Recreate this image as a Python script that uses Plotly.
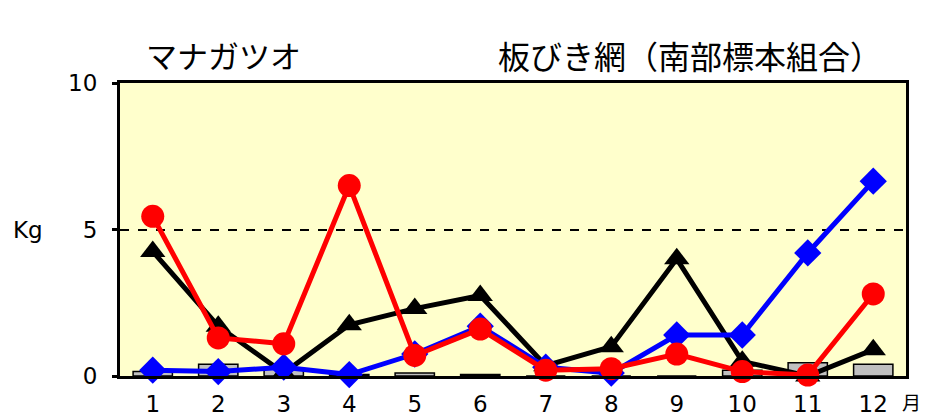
import plotly.graph_objects as go

months = [str(m) for m in range(1, 13)]

# gray bars (small catches)
bar_vals = [0.15, 0.4, 0.25, 0.05, 0.1, 0.05, 0.0, 0.0, 0.0, 0.2, 0.45, 0.4]
# black triangles
tri_vals = [4.25, 1.7, 0.1, 1.75, 2.3, 2.75, 0.35, 1.0, 4.0, 0.5, 0.0, 0.9]
# blue diamonds
dia_vals = [0.2, 0.15, 0.3, 0.05, 0.75, 1.7, 0.3, 0.1, 1.4, 1.4, 4.2, 6.65]
# red circles
cir_vals = [5.45, 1.3, 1.1, 6.5, 0.7, 1.6, 0.2, 0.25, 0.75, 0.15, 0.03, 2.8]

y_ticks = [0, 5, 10]
y_ticklabels = ["0", "5", "10"]

fig = go.Figure()

fig.add_trace(go.Bar(
    x=months, y=bar_vals, width=0.6,
    marker=dict(color="#c0c0c0", line=dict(color="black", width=1.5)),
))
fig.add_trace(go.Scatter(
    x=months, y=tri_vals, mode="lines+markers", cliponaxis=False,
    line=dict(color="black", width=5),
    marker=dict(symbol="triangle-up", size=22, color="black"),
))
fig.add_trace(go.Scatter(
    x=months, y=dia_vals, mode="lines+markers", cliponaxis=False,
    line=dict(color="#0000ff", width=5),
    marker=dict(symbol="diamond", size=21, color="#0000ff"),
))
fig.add_trace(go.Scatter(
    x=months, y=cir_vals, mode="lines+markers", cliponaxis=False,
    line=dict(color="#ff0000", width=5),
    marker=dict(symbol="circle", size=23, color="#ff0000"),
))

font_main = "DejaVu Sans, Verdana, sans-serif"
font_jp = "Noto Sans CJK JP, sans-serif"

fig.update_layout(
    width=925, height=418,
    margin=dict(l=120, r=19, t=83, b=42),
    paper_bgcolor="white",
    plot_bgcolor="#ffffcc",
    showlegend=False,
    bargap=0.4,
    font=dict(family=font_main, size=23, color="black"),
    xaxis=dict(
        type="category", range=[-0.5, 11.5], automargin=False,
        showline=True, linecolor="black", linewidth=3, mirror=True,
        showgrid=False, ticks="", tickfont=dict(size=23),
        ticklabelstandoff=5,
    ),
    yaxis=dict(
        range=[0, 10], tickvals=y_ticks, ticktext=y_ticklabels, automargin=False,
        showline=True, linecolor="black", linewidth=3, mirror=True,
        ticks="outside", ticklen=5, tickwidth=3, tickcolor="black",
        showgrid=True, gridcolor="black", gridwidth=2, griddash="dash",
        zeroline=False, tickfont=dict(size=23), ticklabelstandoff=10,
    ),
    annotations=[
        dict(text="マナガツオ", xref="paper", yref="paper", x=0.031, y=1.096,
             xanchor="left", yanchor="middle", showarrow=False,
             font=dict(family=font_jp, size=31)),
        dict(text="板びき網（南部標本組合）", xref="paper", yref="paper", x=0.478, y=1.096,
             xanchor="left", yanchor="middle", showarrow=False,
             font=dict(family=font_jp, size=32)),
        dict(text="Kg", xref="paper", yref="paper", x=-0.095, y=0.5,
             xanchor="right", yanchor="middle", showarrow=False,
             font=dict(family=font_main, size=23)),
        dict(text="月", xref="paper", yref="paper", x=0.993, y=-0.14,
             xanchor="left", yanchor="bottom", showarrow=False,
             font=dict(family=font_jp, size=19)),
    ],
)

fig.write_html("out.html")
